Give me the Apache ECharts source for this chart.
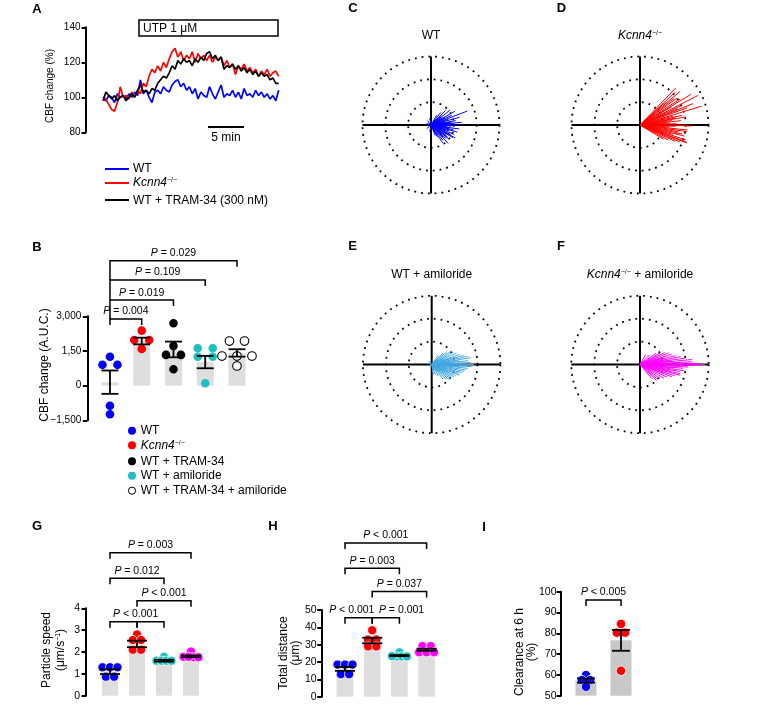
<!DOCTYPE html>
<html>
<head>
<meta charset="utf-8">
<script src="https://cdn.jsdelivr.net/npm/echarts@6/dist/echarts.min.js"></script>
<style>
html,body{margin:0;padding:0;background:#fff;}
#chart{width:768px;height:714px;}
</style>
</head>
<body>
<div id="chart"></div>
<script>
// ================= DATA =================
// Panel A: CBF change (%) over time (min)
const timeA = [0,0.4,0.8,1.2,1.6,2,2.4,2.8,3.2,3.6,4,4.4,4.8,5.2,5.6,6,6.4,6.8,7.2,7.6,8,8.4,8.8,9.2,9.6,10,10.4,10.8,11.2,11.6,12,12.4,12.8,13.2,13.6,14,14.4,14.8,15.2,15.6,16,16.4,16.8,17.2,17.6,18,18.4,18.8,19.2,19.6,20,20.4,20.8,21.2,21.6,22,22.4,22.8,23.2,23.6,24,24.4];
const cbfWT = [99,98,101,100,97,102,100,101,99,102,100,103,101,110,102,104,100,97,103,104,102,106,104,103,107,109,110,106,108,104,106,102,105,99,103,101,100,106,102,99,103,107,100,102,101,104,100,103,99,105,101,102,100,104,101,103,100,102,99,101,98,104];
const cbfKcnn4 = [100,99,96,93,92,97,106,100,101,99,103,100,104,102,108,106,112,116,114,118,115,120,117,122,126,128,123,126,121,124,122,126,120,125,122,124,121,124,120,123,121,123,118,121,117,119,113,118,116,119,115,117,114,116,112,115,113,116,112,114,115,112];
const cbfTRAM = [98,103,101,99,101,98,100,101,98,100,102,100,104,107,103,104,102,105,104,108,110,112,111,114,118,116,121,119,122,120,121,118,122,120,123,121,125,126,122,124,121,123,116,118,117,119,116,118,115,117,114,116,113,115,112,114,112,113,110,111,108,108];
const seriesNamesA = ['WT', 'Kcnn4−/−', 'WT + TRAM-34 (300 nM)'];
const ticksA = [80, 100, 120, 140];

// Panel B: CBF change (A.U.C.)
const groupsB = ['WT', 'Kcnn4−/−', 'WT + TRAM-34', 'WT + amiloride', 'WT + TRAM-34 + amiloride'];
const meanB = [150, 1930, 1565, 1018, 1414];
const semB = [505, 145, 340, 266, 160];
const dotsB = [
  [1250, 900, 900, -870, -1240],
  [2380, 1975, 1975, 1590],
  [2700, 1720, 1330, 1330, 710],
  [1620, 1620, 1250, 1250, 100],
  [1930, 1930, 1280, 1280, 1280, 850]
];
const tickValsB = [-1500, 0, 1500, 3000];
const tickLabelsB = ['−1,500', '0', '1,50', '3,000'];
const bracketsB = [
  [0, 1, 2880, 'P = 0.004', null],
  [0, 2, 3700, 'P = 0.019', null],
  [0, 3, 4570, 'P = 0.109', null],
  [0, 4, 5400, 'P = 0.029', null]
];

// Panels C–F: particle trajectories (angle in degrees, length in ring units)
const angC = [21,30,38,45,52,60,25,15,10,5,0,-3,-8,-12,-15,-18,-22,-26,-30,-34,-38,-42,-47,-52,-57,-62,-68,18,28,8,-5,33,12,100,130,160,-100,-140,3,-1,-10,6,-20,-45,40,-28,2,-36];
const lenC = [1.7,1.2,1.05,0.9,0.7,0.5,1.0,1.3,1.1,1.35,1.2,0.9,1.25,1.0,1.2,0.85,1.1,0.95,1.1,0.8,1.0,0.9,1.1,0.85,0.95,0.6,0.5,0.8,0.7,0.9,0.7,0.6,0.55,0.3,0.25,0.2,0.3,0.25,1.0,1.05,0.8,0.75,0.7,0.75,0.6,1.2,0.85,0.9];
const angD = [46,43,40,38,36,33,30,27,25,23,20,17,15,13,10,8,6,4,2,0,-2,-4,-6,-8,-10,-12,-14,-16,-18,-20,-21,-23,-25,-28,-31,22,31,42,-1,11];
const lenD = [2.25,2.1,2.3,1.9,2.0,2.1,1.6,2.85,2.0,1.8,2.2,2.82,1.5,1.9,2.05,1.4,1.8,1.3,1.6,2.0,1.55,1.3,2.1,2.07,1.7,1.9,2.0,1.5,2.1,2.15,2.2,1.9,1.7,1.4,1.2,2.5,2.6,1.5,2.3,1.6];
const angE = [0,3,-3,6,10,13,16,20,25,30,35,40,45,55,-6,-9,-12,-15,-18,-21,-25,-29,-33,-37,-41,-46,-52,-60,-70,-80,1,8,-4,18,-25,130,160,-150];
const lenE = [1.85,1.7,1.75,1.6,1.73,1.6,1.45,1.3,1.2,1.1,0.95,0.85,0.7,0.5,1.6,1.5,1.45,1.35,1.25,1.3,1.15,1.1,1.0,1.05,1.0,0.9,0.8,0.6,0.5,0.45,1.4,1.2,1.2,0.9,0.8,0.2,0.15,0.15];
const angF = [0,1,-1,3,5.5,8,11,14,18,22,26,30,35,-3,-5,-8,-10,-13,-15,-18,-21,-25,-30,-35,-40,-44,-50,2,6,-6,10,-12,16,-20,45,60];
const lenF = [2.85,2.6,2.4,2.3,2.28,2.0,1.8,1.6,1.45,1.35,1.2,1.0,0.85,2.1,1.9,1.95,1.75,1.8,1.82,1.6,1.5,1.3,1.2,1.05,1.0,1.0,0.8,1.6,1.4,1.5,1.2,1.3,1.0,1.1,0.6,0.5];

// Panel G: particle speed (µm/s)
const groupsGH = ['WT', 'Kcnn4−/−', 'WT + amiloride', 'Kcnn4−/− + amiloride'];
const meanG = [1.1, 2.37, 1.6, 1.8];
const semG = [0.11, 0.15, 0.04, 0.04];
const dotsG = [[1.3,1.3,1.3,0.87,0.87],[2.8,2.55,2.55,2.1,2.1],[1.78,1.6,1.6,1.6,1.6],[2.02,1.78,1.76,1.76,1.78]];
const bracketsG = [
  [0, 1, 3.39, 'P < 0.001', 0.95],
  [1, 2, 3.39, '', null],
  [1, 3, 4.35, 'P < 0.001', null],
  [0, 2, 5.37, 'P = 0.012', null],
  [0, 3, 6.54, 'P = 0.003', null]
];

// Panel H: total distance (µm)
const meanH = [16, 32.4, 23.7, 27.1];
const semH = [1.1, 1.6, 0.3, 0.6];
const dotsH = [[18.5,18.5,18.5,13,13],[38.3,33,33,29,29],[25.6,23.2,23.2,23.2,23.4],[29.2,29.2,25.6,25.6,25.6]];
const bracketsH = [
  [0, 1, 45.6, 'P < 0.001', 0.25],
  [1, 2, 45.6, 'P = 0.001', 2.08],
  [1, 3, 60.6, 'P = 0.037', null],
  [0, 2, 74.1, 'P = 0.003', null],
  [0, 3, 88.7, 'P < 0.001', null]
];

// Panel I: clearance at 6 h (%)
const groupsI = ['WT', 'Kcnn4−/−'];
const meanI = [57.3, 76.6];
const semI = [1.0, 5.0];
const dotsI = [[59.9,57.5,57.5,54.3],[84.5,80.3,80.3,62]];
const bracketsI = [[0, 1, 96, 'P < 0.005', null]];

// ================= STYLE / HELPERS =================
const FONT = '"Liberation Sans", Arial, Helvetica, sans-serif';
const BLUE = '#0000ff', RED = '#ff0000', BLACK = '#000000', TEAL = '#1dbfbf', MAG = '#ff00ff', SKY = '#3fa6e2';
const RICH = (fs) => ({
  it: {fontStyle: 'italic', fontSize: fs, fontFamily: FONT, fill: '#000'},
  sup: {fontSize: Math.round(fs * 0.6), fontFamily: FONT, verticalAlign: 'top', lineHeight: Math.round(fs * 0.6) + 1, fill: '#000'},
  n: {fontSize: fs, fontFamily: FONT, fill: '#000'}
});
const KO = '{it|Kcnn4}{sup|−/−}';
function pText(s) { return s.replace(/^P/, '{it|P}'); }

function swarm(vals, thr, step, maxSpan) {
  const idx = vals.map((v, i) => i).sort((a, b) => vals[b] - vals[a]);
  const off = new Array(vals.length).fill(0);
  let i = 0;
  while (i < idx.length) {
    let j = i + 1;
    while (j < idx.length && vals[idx[i]] - vals[idx[j]] < thr) j++;
    const n = j - i;
    const s = n > 1 ? Math.min(step, maxSpan / (n - 1)) : 0;
    for (let k = 0; k < n; k++) off[idx[i + k]] = (k - (n - 1) / 2) * s;
    i = j;
  }
  return off;
}

function yAx(gi, min, max, interval, offset, fontSize, margin, formatter) {
  return {type: 'value', gridIndex: gi, min, max, interval, offset, position: 'left',
    axisLine: {show: true, onZero: false, lineStyle: {color: '#000', width: 2}},
    axisTick: {show: true, inside: false, length: 4.5, lineStyle: {color: '#000', width: 2}},
    axisLabel: {show: true, color: '#000', fontSize, fontFamily: FONT, margin, formatter},
    splitLine: {show: false}};
}
function xAx(gi, min, max) {
  return {type: 'value', gridIndex: gi, min, max, show: false, axisLine: {onZero: false}, splitLine: {show: false}};
}
function barSeries(gi, mean, color, w) {
  return {type: 'bar', xAxisIndex: gi, yAxisIndex: gi, silent: true, z: 2, barWidth: w,
    itemStyle: {color}, data: mean.map((m, i) => [i, m])};
}
function errSeries(gi, mean, sem, capW) {
  return {type: 'custom', xAxisIndex: gi, yAxisIndex: gi, silent: true, z: 6, encode: {x: 0, y: [1, 2]},
    data: mean.map((m, i) => [i, m - sem[i], m + sem[i]]),
    renderItem(params, api) {
      const lo = api.coord([api.value(0), api.value(1)]);
      const hi = api.coord([api.value(0), api.value(2)]);
      const h = capW / 2, st = {stroke: '#000', lineWidth: 1.8};
      return {type: 'group', children: [
        {type: 'line', shape: {x1: lo[0], y1: lo[1], x2: hi[0], y2: hi[1]}, style: st},
        {type: 'line', shape: {x1: lo[0] - h, y1: lo[1], x2: lo[0] + h, y2: lo[1]}, style: st},
        {type: 'line', shape: {x1: hi[0] - h, y1: hi[1], x2: hi[0] + h, y2: hi[1]}, style: st}
      ]};
    }};
}
function dotSeries(gi, dots, colors, o) {
  const data = [];
  dots.forEach((vals, g) => {
    const off = swarm(vals, o.thr, o.step, o.maxSpan);
    vals.forEach((v, k) => data.push([g, v, off[k]]));
  });
  return {type: 'custom', xAxisIndex: gi, yAxisIndex: gi, silent: true, z: 4, encode: {x: 0, y: 1}, data,
    renderItem(params, api) {
      const g = api.value(0);
      const p = api.coord([g, api.value(1)]);
      const open = o.open && o.open[g];
      return {type: 'circle', shape: {cx: p[0] + api.value(2), cy: p[1], r: o.r},
        style: {fill: open ? '#fff' : colors[g], stroke: open ? '#000' : o.stroke, lineWidth: open ? 1.1 : o.strokeW}};
    }};
}
function bracketSeries(gi, brackets, joinLeft) {
  return {type: 'custom', xAxisIndex: gi, yAxisIndex: gi, silent: true, z: 6, clip: false, encode: {x: 0, y: 2},
    data: brackets.map(b => [b[0], b[1], b[2]]),
    renderItem(params, api) {
      const b = brackets[params.dataIndex];
      const pA = api.coord([b[0], b[2]]), pB = api.coord([b[1], b[2]]);
      let legL = 6;
      if (joinLeft) {
        let lower = null;
        brackets.forEach(o => { if (o[0] === b[0] && o[2] < b[2] && (lower === null || o[2] > lower)) lower = o[2]; });
        if (lower !== null) legL = api.coord([b[0], lower])[1] - pA[1];
      }
      const children = [{type: 'polyline',
        shape: {points: [[pA[0], pA[1] + legL], [pA[0], pA[1]], [pB[0], pB[1]], [pB[0], pB[1] + 6]]},
        style: {stroke: '#000', lineWidth: 1.5, fill: 'none'}}];
      if (b[3]) {
        const x = b[4] != null ? api.coord([b[4], b[2]])[0] : (pA[0] + pB[0]) / 2;
        children.push({type: 'text', x, y: pA[1] - 7.5,
          style: {text: pText(b[3]), rich: RICH(10.5), fontSize: 10.5, fontFamily: FONT, fill: '#000', align: 'center', verticalAlign: 'middle'}});
      }
      return {type: 'group', children};
    }};
}
function raySeries(pi, ang, len, color) {
  return {type: 'custom', coordinateSystem: 'polar', polarIndex: pi, silent: true, z: 5,
    data: ang.map((a, i) => [len[i], a]),
    renderItem(params, api) {
      const p0 = api.coord([0, api.value(1)]);
      const p1 = api.coord([api.value(0), api.value(1)]);
      return {type: 'line', shape: {x1: p0[0], y1: p0[1], x2: p1[0], y2: p1[1]}, style: {stroke: color, lineWidth: 1}};
    }};
}
function polarAxes(pi) {
  const dots = {color: '#000', width: 1.8, type: [1.8, 5]};
  return {
    angle: {polarIndex: pi, type: 'value', min: 0, max: 360, interval: 90, startAngle: 0, clockwise: false,
      axisLine: {show: false}, axisTick: {show: false}, axisLabel: {show: false},
      splitLine: {show: true, lineStyle: {color: '#000', width: 2}}},
    radius: {polarIndex: pi, type: 'value', min: 0, max: 3, interval: 1,
      axisLine: {show: false}, axisTick: {show: false}, axisLabel: {show: false},
      splitLine: {show: true, lineStyle: dots}}
  };
}
function txt(x, y, text, o = {}) {
  return {type: 'text', x, y, rotation: o.rot || 0, silent: true, z: 10,
    style: {text, fill: '#000', fontSize: o.size || 12, fontFamily: FONT, fontWeight: o.weight || 'normal',
      align: o.align || 'center', verticalAlign: o.valign || 'middle', rich: o.rich}};
}
function lineEl(x1, y1, x2, y2, color, w) {
  return {type: 'line', silent: true, z: 10, shape: {x1, y1, x2, y2}, style: {stroke: color, lineWidth: w}};
}

// ================= OPTION =================
const colorsB = [BLUE, RED, BLACK, TEAL, '#fff'];
const colorsGH = [BLUE, RED, TEAL, MAG];
const colorsI = [BLUE, RED];
const pa = [0, 1, 2, 3].map(polarAxes);
const R90 = Math.PI / 2;

const option = {
  animation: false,
  tooltip: {show: false},
  textStyle: {fontFamily: FONT},
  grid: [
    {left: 103, top: 27.3, width: 175.7, height: 105, outerBoundsMode: 'none'},
    {left: 94.1, top: 316.3, width: 158.75, height: 104, outerBoundsMode: 'none'},
    {left: 96.5, top: 608.3, width: 108, height: 87.4, outerBoundsMode: 'none'},
    {left: 331.4, top: 610, width: 108.8, height: 86.7, outerBoundsMode: 'none'},
    {left: 568.5, top: 591.7, width: 70, height: 104, outerBoundsMode: 'none'}
  ],
  xAxis: [xAx(0, timeA[0], timeA[timeA.length - 1]), xAx(1, -0.5, groupsB.length - 0.5), xAx(2, -0.5, groupsGH.length - 0.5), xAx(3, -0.5, groupsGH.length - 0.5), xAx(4, -0.5, groupsI.length - 0.5)],
  yAxis: [
    yAx(0, ticksA[0], ticksA[ticksA.length - 1], ticksA[1] - ticksA[0], 17, 10, 5.5),
    yAx(1, tickValsB[0], tickValsB[tickValsB.length - 1], tickValsB[1] - tickValsB[0], 6.8, 10, 6,
      v => { const k = tickValsB.indexOf(v); return k >= 0 ? tickLabelsB[k] : ''; }),
    yAx(2, 0, 4, 1, 10.5, 10.5, 6),
    yAx(3, 0, 50, 10, 9.7, 10.5, 5),
    yAx(4, 50, 100, 10, 7.5, 10.5, 4.5)
  ],
  polar: [
    {center: [431, 125], radius: 68.5},
    {center: [640, 125], radius: 68.5},
    {center: [431.7, 364.5], radius: 68.7},
    {center: [640, 364.5], radius: 68.7}
  ],
  angleAxis: pa.map(p => p.angle),
  radiusAxis: pa.map(p => p.radius),
  series: [
    {type: 'line', name: seriesNamesA[0], xAxisIndex: 0, yAxisIndex: 0, silent: true, showSymbol: false, symbol: 'none', z: 2,
      lineStyle: {color: BLUE, width: 1.7}, data: timeA.map((t, i) => [t, cbfWT[i]])},
    {type: 'line', name: seriesNamesA[1], xAxisIndex: 0, yAxisIndex: 0, silent: true, showSymbol: false, symbol: 'none', z: 3,
      lineStyle: {color: RED, width: 1.7}, data: timeA.map((t, i) => [t, cbfKcnn4[i]])},
    {type: 'line', name: seriesNamesA[2], xAxisIndex: 0, yAxisIndex: 0, silent: true, showSymbol: false, symbol: 'none', z: 4,
      lineStyle: {color: BLACK, width: 1.7}, data: timeA.map((t, i) => [t, cbfTRAM[i]])},
    barSeries(1, meanB, '#dedede', 17),
    dotSeries(1, dotsB, colorsB, {thr: 100, step: 15, maxSpan: 31, r: 4.3, stroke: 'none', strokeW: 0, open: [false, false, false, false, true]}),
    errSeries(1, meanB, semB, 17),
    bracketSeries(1, bracketsB, true),
    raySeries(0, angC, lenC, BLUE),
    raySeries(1, angD, lenD, RED),
    raySeries(2, angE, lenE, SKY),
    raySeries(3, angF, lenF, MAG),
    barSeries(2, meanG, '#dedede', 16),
    dotSeries(2, dotsG, colorsGH, {thr: 0.06, step: 8.3, maxSpan: 15, r: 4.6, stroke: '#fff', strokeW: 0.8}),
    errSeries(2, meanG, semG, 20),
    bracketSeries(2, bracketsG, false),
    barSeries(3, meanH, '#dedede', 16.7),
    dotSeries(3, dotsH, colorsGH, {thr: 0.8, step: 8.3, maxSpan: 15, r: 4.6, stroke: '#fff', strokeW: 0.8}),
    errSeries(3, meanH, semH, 20),
    bracketSeries(3, bracketsH, false),
    barSeries(4, meanI, '#c8c8c8', 21),
    dotSeries(4, dotsI, colorsI, {thr: 1, step: 8.3, maxSpan: 15, r: 4.7, stroke: '#fff', strokeW: 0.8}),
    errSeries(4, meanI, semI, 18),
    bracketSeries(4, bracketsI, false)
  ],
  graphic: {elements: [
    txt(37, 9, 'A', {size: 13, weight: 'bold'}),
    txt(37, 247.5, 'B', {size: 13, weight: 'bold'}),
    txt(353, 8, 'C', {size: 13, weight: 'bold'}),
    txt(561.5, 8, 'D', {size: 13, weight: 'bold'}),
    txt(352.7, 246.7, 'E', {size: 13, weight: 'bold'}),
    txt(561, 246.7, 'F', {size: 13, weight: 'bold'}),
    txt(37, 526.7, 'G', {size: 13, weight: 'bold'}),
    txt(273, 526.7, 'H', {size: 13, weight: 'bold'}),
    txt(484, 527, 'I', {size: 13, weight: 'bold'}),
    {type: 'rect', silent: true, z: 9, shape: {x: 139, y: 20, width: 139, height: 16}, style: {fill: '#fff', stroke: '#000', lineWidth: 1.5}},
    txt(143, 28.5, 'UTP 1 μM', {align: 'left'}),
    lineEl(208, 127, 244, 127, '#000', 2),
    txt(226, 137.5, '5 min'),
    txt(50, 86, 'CBF change (%)', {rot: R90, size: 10}),
    lineEl(105, 169, 129, 169, BLUE, 2),
    lineEl(105, 183, 129, 183, RED, 2),
    lineEl(105, 200, 129, 200, BLACK, 2),
    txt(133, 169, seriesNamesA[0], {align: 'left'}),
    txt(133, 183, KO, {align: 'left', rich: RICH(12)}),
    txt(133, 200.5, seriesNamesA[2], {align: 'left'}),
    txt(45, 365, 'CBF change (A.U.C.)', {rot: R90}),
    {type: 'circle', silent: true, z: 10, shape: {cx: 132, cy: 430.7, r: 4}, style: {fill: BLUE}},
    {type: 'circle', silent: true, z: 10, shape: {cx: 132, cy: 445.3, r: 4}, style: {fill: RED}},
    {type: 'circle', silent: true, z: 10, shape: {cx: 132, cy: 461.3, r: 4}, style: {fill: BLACK}},
    {type: 'circle', silent: true, z: 10, shape: {cx: 132, cy: 475.7, r: 4}, style: {fill: TEAL}},
    {type: 'circle', silent: true, z: 10, shape: {cx: 132, cy: 490.7, r: 3.6}, style: {fill: '#fff', stroke: '#000', lineWidth: 1}},
    txt(140.7, 430.7, groupsB[0], {align: 'left'}),
    txt(140.7, 445.3, KO, {align: 'left', rich: RICH(12)}),
    txt(140.7, 461.3, groupsB[2], {align: 'left'}),
    txt(140.7, 475.7, groupsB[3], {align: 'left'}),
    txt(140.7, 490.7, groupsB[4], {align: 'left'}),
    txt(431, 36, 'WT'),
    txt(640, 36, KO, {rich: RICH(12)}),
    txt(431.7, 275, 'WT + amiloride'),
    txt(640, 275, KO + ' + amiloride', {rich: RICH(12)}),
    txt(46.7, 650, 'Particle speed', {rot: R90}),
    txt(61, 650, '(μm/s{sup|−1})', {rot: R90, rich: RICH(12)}),
    txt(283.3, 653, 'Total distance', {rot: R90}),
    txt(295.5, 653, '(μm)', {rot: R90}),
    txt(520, 652, 'Clearance at 6 h', {rot: R90}),
    txt(532, 652, '(%)', {rot: R90})
  ]}
};

const chart = echarts.init(document.getElementById('chart'), null, {renderer: 'canvas', width: 768, height: 714});
chart.setOption(option);
</script>
</body>
</html>
